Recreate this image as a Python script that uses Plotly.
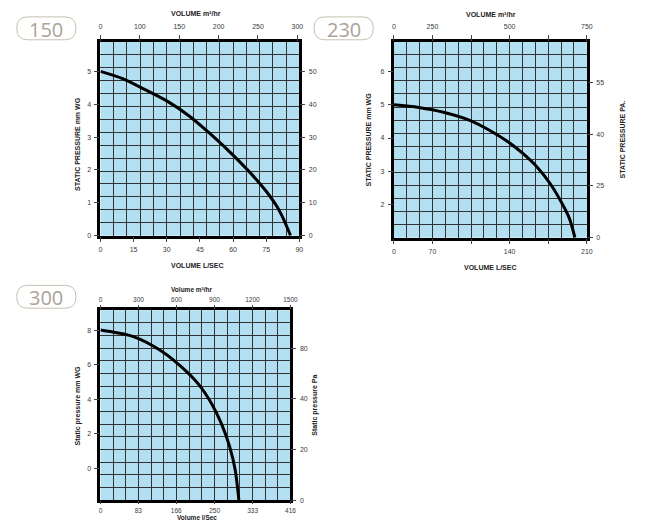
import plotly.graph_objects as go

# ---------------- data ----------------
# Fan 150
flow150 = [0, 10, 20, 30, 40, 50, 60, 70, 75, 80, 83, 86]              # L/sec
pres150 = [5.0, 4.78, 4.45, 4.1, 3.65, 3.08, 2.45, 1.75, 1.35, 0.87, 0.48, 0.0]  # mm WG
bottom150_vals = [0, 15, 30, 45, 60, 75, 90]
bottom150_text = ["0", "15", "30", "45", "60", "75", "90"]
top150_text = ["0", "100", "150", "200", "250", "300"]
left150_vals = [0, 1, 2, 3, 4, 5]
right150_vals = [0, 10, 20, 30, 40, 50]

# Fan 230
flow230 = [0, 27, 55, 84, 105, 125, 141, 156, 170, 182, 191, 197]
pres230 = [5.0, 4.92, 4.77, 4.52, 4.22, 3.87, 3.52, 3.12, 2.63, 2.08, 1.58, 1.0]
bottom230_text = ["0", "70", "", "140", "", "210"]
top230_text = ["0", "250", "", "500", "", "750"]
left230_vals = [2, 3, 4, 5, 6]
right230_text = ["0", "25", "40", "55"]

# Fan 300
flow300 = [0, 72, 129, 176, 215, 244, 265, 283, 295, 303]
pres300 = [8.0, 7.62, 6.86, 5.90, 4.86, 3.71, 2.57, 1.24, -0.10, -1.84]
bottom300_vals = [0, 83, 166, 250, 333, 416]
top300_vals = [0, 300, 600, 900, 1200, 1500]
left300_vals = [0, 2, 4, 6, 8]
right300_text = ["0", "20", "40", "80"]

fan_labels = ["150", "230", "300"]

# ---------------- layout helpers ----------------
W, H = 649, 523
def px(x): return x / W
def py(y): return 1 - y / H

BG = "#b2dff2"
GRID = "#333333"
TICKFONT = dict(family="Liberation Sans", size=7, color="#3a3a3a")
TITLEFONT = dict(family="Liberation Sans", size=7, color="#222222", weight="bold")

def xn(i): return "xaxis" if i == 1 else f"xaxis{i}"
def yn(i): return "yaxis" if i == 1 else f"yaxis{i}"
def xr(i): return "x" if i == 1 else f"x{i}"
def yr(i): return "y" if i == 1 else f"y{i}"

fig = go.Figure()
lay = {}

def tick_axis(**kw):
    d = dict(ticks="outside", ticklen=5, tickwidth=1, tickcolor="#444",
             showgrid=False, zeroline=False, showline=False,
             tickfont=TICKFONT, ticklabelstandoff=2, fixedrange=True)
    d.update(kw)
    return d

def build(k, box, bottom, top, left, right, flow, pres):
    x0, x1, y0, y1 = box
    g, b, t = 3 * k + 1, 3 * k + 2, 3 * k + 3
    frame = dict(showgrid=True, gridcolor=GRID, gridwidth=1.3, showticklabels=False,
                 ticks="", showline=True, linewidth=3, linecolor="black", mirror=True,
                 zeroline=False, range=[0, 15], dtick=1, tick0=0, fixedrange=True)
    lay[xn(g)] = dict(frame, domain=[px(x0), px(x1)], anchor=yr(g))
    lay[yn(g)] = dict(frame, domain=[py(y1), py(y0)], anchor=xr(g))
    lay[xn(b)] = tick_axis(overlaying=xr(g), anchor=yr(g), side="bottom", **bottom)
    lay[xn(t)] = tick_axis(overlaying=xr(g), anchor=yr(g), side="top", **top)
    lay[yn(b)] = tick_axis(overlaying=yr(g), anchor=xr(g), side="left", **left)
    lay[yn(t)] = tick_axis(overlaying=yr(g), anchor=xr(g), side="right", **right)
    fig.add_trace(go.Scatter(x=[None], y=[None], xaxis=xr(g), yaxis=yr(g),
                             showlegend=False, hoverinfo="skip"))
    fig.add_trace(go.Scatter(x=[None], y=[None], xaxis=xr(t), yaxis=yr(t),
                             showlegend=False, hoverinfo="skip"))
    fig.add_trace(go.Scatter(x=flow, y=pres, xaxis=xr(b), yaxis=yr(b), mode="lines",
                             line=dict(color="black", width=3, shape="spline", smoothing=0.8),
                             showlegend=False, hoverinfo="skip"))

# Chart 150
build(0, (100, 302, 42, 237),
      dict(range=[0, 90], tickvals=bottom150_vals, ticktext=bottom150_text),
      dict(range=[0, 5.05], tickvals=list(range(len(top150_text))), ticktext=top150_text,
           ticklen=6, ticklabelstandoff=3),
      dict(range=[0, 5.9], tickvals=left150_vals, ticktext=[str(v) for v in left150_vals]),
      dict(range=[0, 59], tickvals=right150_vals, ticktext=[str(v) for v in right150_vals]),
      flow150, pres150)

# Chart 230
n230 = len(bottom230_text) - 1
build(1, (398, 594, 42, 239),
      dict(range=[0, 210], tickvals=[210 * i / n230 for i in range(n230 + 1)], ticktext=bottom230_text),
      dict(range=[0, n230], tickvals=list(range(len(top230_text))), ticktext=top230_text,
           ticklen=6, ticklabelstandoff=3),
      dict(range=[1.0, 6.9], tickvals=left230_vals, ticktext=[str(v) for v in left230_vals]),
      dict(range=[0, 3.79], tickvals=list(range(len(right230_text))), ticktext=right230_text),
      flow230, pres230)

# Chart 300
build(2, (100, 293, 312, 503),
      dict(range=[0, 416], tickvals=bottom300_vals, ticktext=[str(v) for v in bottom300_vals],
           ticklen=3, ticklabelstandoff=1, tickfont=dict(TICKFONT, size=6.5)),
      dict(range=[0, 1500], tickvals=top300_vals, ticktext=[str(v) for v in top300_vals],
           ticklen=4, ticklabelstandoff=1, tickfont=dict(TICKFONT, size=6.5)),
      dict(range=[-1.84, 9.15], tickvals=left300_vals, ticktext=[str(v) for v in left300_vals]),
      dict(range=[0, 3.75], tickvals=list(range(len(right300_text))), ticktext=right300_text),
      flow300, pres300)

# ---------------- titles ----------------
ann = []
def title(text, x, y, angle=0, size=7):
    ann.append(dict(text=text, x=px(x), y=py(y), xref="paper", yref="paper",
                    xanchor="center", yanchor="middle", showarrow=False,
                    textangle=angle, font=dict(TITLEFONT, size=size)))

title("VOLUME m³/hr", 197, 14)
title("VOLUME L/SEC", 199, 267)
title("STATIC PRESSURE mm WG", 76, 145, -90)

title("VOLUME m³/hr", 497, 15)
title("VOLUME L/SEC", 496, 269)
title("STATIC PRESSURE mm WG", 372, 140, -90)
title("STATIC PRESSURE PA.", 630, 140, -90)

title("Volume m³/hr", 193, 291, size=6.5)
title("Volume l/Sec", 198, 520, size=6.5)
title("Static pressure mm WG", 77, 408, -90)
title("Static pressure Pa", 318, 408, -90)

# ---------------- fan size badges ----------------
shapes = []
def badge(text, x0, y0, x1, y1, r=11):
    path = (f"M {px(x0 + r)},{py(y0)} L {px(x1 - r)},{py(y0)} "
            f"Q {px(x1)},{py(y0)} {px(x1)},{py(y0 + r)} L {px(x1)},{py(y1 - r)} "
            f"Q {px(x1)},{py(y1)} {px(x1 - r)},{py(y1)} L {px(x0 + r)},{py(y1)} "
            f"Q {px(x0)},{py(y1)} {px(x0)},{py(y1 - r)} L {px(x0)},{py(y0 + r)} "
            f"Q {px(x0)},{py(y0)} {px(x0 + r)},{py(y0)} Z")
    shapes.append(dict(type="path", path=path, xref="paper", yref="paper",
                       line=dict(color="#c9c0b2", width=1)))
    ann.append(dict(text=text, x=px((x0 + x1) / 2), y=py((y0 + y1) / 2 + 1),
                    xref="paper", yref="paper", xanchor="center", yanchor="middle",
                    showarrow=False,
                    font=dict(family="Open Sans", size=20, color="#a9a398")))

badge(fan_labels[0], 15, 17, 75, 40)
badge(fan_labels[1], 317, 17, 377, 40)
badge(fan_labels[2], 15, 287, 75, 310)

fig.update_layout(width=W, height=H, autosize=False,
                  margin=dict(l=0, r=0, t=0, b=0),
                  paper_bgcolor="white", plot_bgcolor=BG,
                  annotations=ann, shapes=shapes, showlegend=False, **lay)

fig.write_html("out.html", config={"displayModeBar": False},
               post_script="document.body.style.margin='0px';")
